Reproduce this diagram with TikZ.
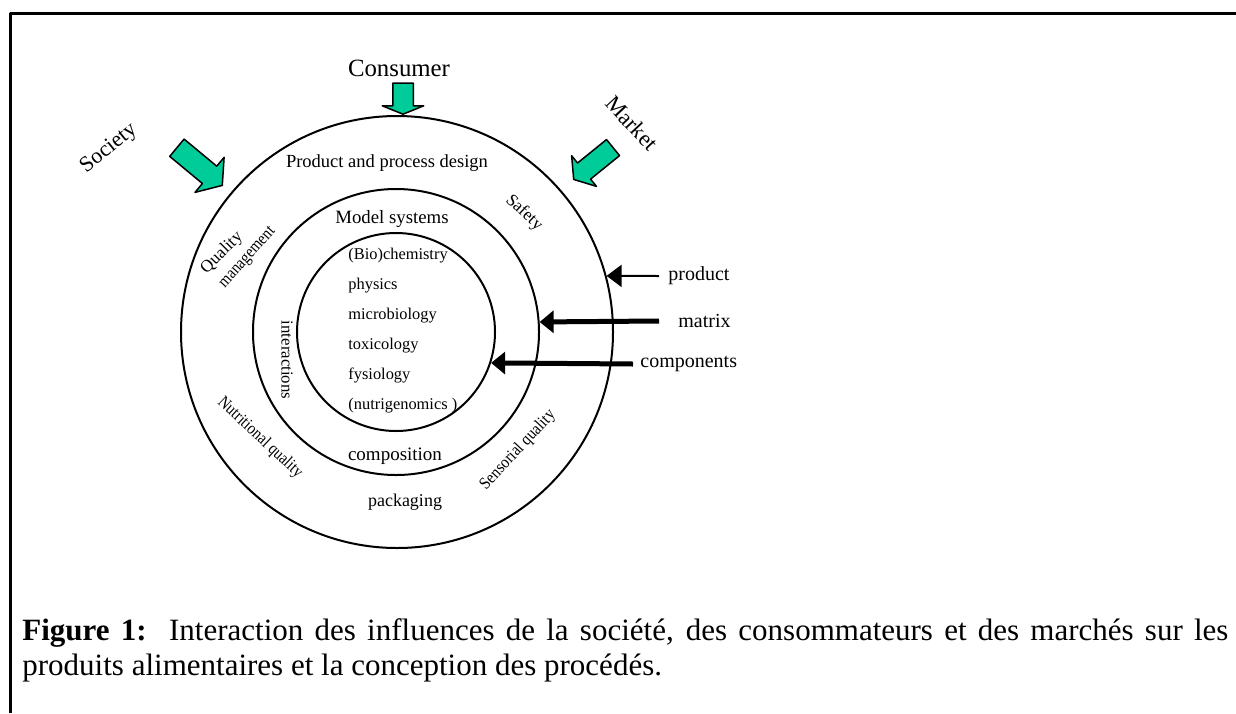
\documentclass[tikz,border=0pt]{standalone}
\usepackage{fontspec}
\setmainfont{Liberation Serif}
\usetikzlibrary{arrows.meta,shapes.arrows}
\definecolor{mint}{RGB}{0,204,153}

\begin{document}
\begin{tikzpicture}[line cap=round,line join=round,x=0.5pt,y=-0.5pt,
  ring/.style={circle,draw,line width=1pt,inner sep=0pt},
  lab/.style={inner sep=0pt},
  push/.style={single arrow,draw,fill=mint,line width=0.75pt,inner xsep=0pt,anchor=tip},
  lightarrow/.style={line width=1pt,line cap=butt,-{Triangle[length=7.5pt,width=11pt]}},
  heavyarrow/.style={line width=2.5pt,line cap=butt,-{Triangle[length=7pt,width=11pt]}},
  side/.style={lab,font=\fontsize{8.6}{10}\selectfont}]
\useasboundingbox (0,0) rectangle (1236,713);
\draw[line width=1.5pt,line cap=butt] (10,713) -- (10,13.5) -- (1236,13.5);
\node[ring,minimum size=216pt] (outer) at (397,332) {};
\node[ring,minimum size=143pt] (middle) at (396,332) {};
\node[ring,minimum size=99pt] (inner) at (396,332) {};
\node[push,rotate=-90,minimum height=15.5pt,inner ysep=4.75pt,single arrow head extend=5.25pt,single arrow tip angle=136] (consarrow) at (403,115) {};
\node[push,rotate=-39.7,minimum height=29.5pt,inner ysep=5.25pt,single arrow head extend=5.75pt,single arrow tip angle=108] (socarrow) at (223,186) {};
\node[push,rotate=-141,minimum height=25.3pt,inner ysep=4.8pt,single arrow head extend=4.7pt,single arrow tip angle=112] (markarrow) at (573,180) {};
\node[lab,font=\fontsize{12.4}{14}\selectfont] (consumer) at (399,68) {Consumer};
\node[lab,rotate=39,font=\fontsize{11}{13}\selectfont] (society) at (109,149) {Society};
\node[lab,rotate=-47,font=\fontsize{11.25}{13}\selectfont] (market) at (632,123) {Market};
\node[lab,font=\fontsize{9.25}{11}\selectfont] (design) at (387,163) {Product and process design};
\node[lab,font=\fontsize{9.4}{11}\selectfont] (models) at (392,219) {Model systems};
\node[lab,anchor=west,align=left,font=\fontsize{8.2}{15}\selectfont] (topics) at (348,331)
  {(Bio)chemistry\\physics\\microbiology\\toxicology\\fysiology\\(nutrigenomics )};
\node[lab,font=\fontsize{9.5}{11}\selectfont] (composition) at (395,456) {composition};
\node[lab,font=\fontsize{9}{11}\selectfont] (packaging) at (405,502) {packaging};
\node[lab,rotate=-90,font=\fontsize{8.4}{10}\selectfont] (interactions) at (287,360) {interactions};
\node[side,rotate=45] (quality) at (222,253) {Quality};
\node[side,rotate=48,xscale=0.86] (management) at (248,258) {management};
\node[side,rotate=-43] (safety) at (524,213) {Safety};
\node[side,rotate=-43,xscale=0.86] (nutritional) at (260,438) {Nutritional quality};
\node[side,rotate=47,xscale=0.88] (sensorial) at (518,450) {Sensorial quality};
\node[lab,anchor=west,font=\fontsize{10}{12}\selectfont] (prodlab) at (668,276) {product};
\node[lab,anchor=west,font=\fontsize{10}{12}\selectfont] (matlab) at (678,321) {matrix};
\node[lab,anchor=west,font=\fontsize{10}{12}\selectfont] (complab) at (640,364) {components};
\draw[lightarrow] ([xshift=-4.5pt]prodlab.west) -- (outer.15);
\draw[heavyarrow] ([xshift=-9.5pt]matlab.west) -- (middle.4.38);
\draw[heavyarrow] ([xshift=-3.5pt]complab.west) -- (inner.-18.66);
\node[lab,anchor=base west,text width=603pt,align=justify,font=\fontsize{15.5}{17.5}\selectfont] (caption) at (22,640)
  {\hyphenpenalty=10000\textbf{Figure 1:}\ \ Interaction des influences de la société, des consommateurs et des marchés sur les produits alimentaires et la conception des procédés.};
\end{tikzpicture}
\end{document}
